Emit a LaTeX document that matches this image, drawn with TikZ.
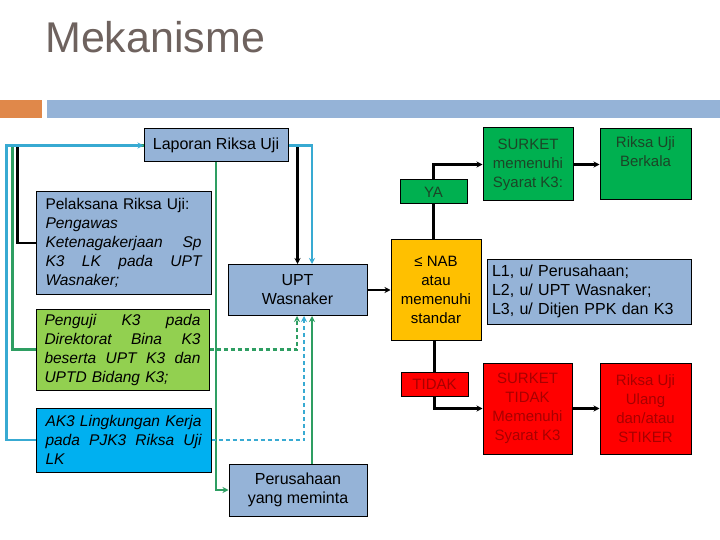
\documentclass[tikz,border=0pt]{standalone}
\usepackage{fontspec}
\setmainfont{Liberation Sans}
\usepackage{xcolor}
\usepackage{tikz}
\usetikzlibrary{arrows.meta}

\definecolor{judulAbu}{HTML}{6E625E}
\definecolor{barOranye}{HTML}{E0884A}
\definecolor{barBiru}{HTML}{95B3D7}
\definecolor{isiBiru}{HTML}{95B3D7}
\definecolor{isiHijauMuda}{HTML}{92D050}
\definecolor{isiCyan}{HTML}{00B0F0}
\definecolor{isiKuning}{HTML}{FFC000}
\definecolor{isiHijau}{HTML}{00B050}
\definecolor{isiMerah}{HTML}{FF0000}
\definecolor{teksHijau}{HTML}{1C4527}
\definecolor{teksMerah}{HTML}{A80000}
\definecolor{garisHijau}{HTML}{2E9E62}
\definecolor{garisBiru}{HTML}{38AAD2}

\begin{document}
\begin{tikzpicture}[
        x=1pt, y=-1pt,
        kotak/.style={rectangle, draw=black, line width=1pt, inner sep=0pt, align=center, font=\fontsize{16}{19}\selectfont},
        kotakkiri/.style={kotak, text width=156pt, align=left, font=\fontsize{15.5}{19}\selectfont\itshape},
        kotakkanan/.style={kotak, font=\fontsize{15}{19}\selectfont},
        garis/.style={line width=2.5pt},
        panah/.style={->, >={Stealth[length=6pt,width=6pt]}, line width=2.5pt},
        putus/.style={dash pattern=on 4pt off 3pt}
    ]
        \useasboundingbox (0,0) rectangle (720,540);
        \fill[white] (0,0) rectangle (720,540);

        % ========== JUDUL ==========
        \node[font=\fontsize{43}{43}\selectfont, text=judulAbu, anchor=base west, inner sep=0pt] (judul) at (45,53) {Mekanisme};
        \fill[barOranye] (0,100) rectangle (42,118);
        \fill[barBiru] (47,100) rectangle (720,118);

        % ========== SISI KIRI ==========
        \node[kotak, fill=isiBiru, minimum width=144pt, minimum height=33pt] (lapor) at (216,145.5) {Laporan Riksa Uji};
        \node[kotakkiri, fill=isiBiru, minimum width=175pt, minimum height=102pt] (pelaksana) at (123.5,243) {{\upshape Pelaksana Riksa Uji:}\\Pengawas\\Ketenagakerjaan\hfill Sp\\K3\hfill LK\hfill pada\hfill UPT\\Wasnaker;};
        \node[kotakkiri, fill=isiHijauMuda, minimum width=173pt, minimum height=81pt] (penguji) at (122.5,349.5) {Penguji\hfill K3\hfill pada\\Direktorat\hfill Bina\hfill K3\\beserta\hfill UPT\hfill K3\hfill dan\\UPTD Bidang K3;};
        \node[kotakkiri, fill=isiCyan, minimum width=175pt, minimum height=64pt] (ak3) at (123.5,440) {AK3 Lingkungan Kerja\\pada\hfill PJK3\hfill Riksa\hfill Uji\\LK};

        % ========== TENGAH ==========
        \node[kotak, fill=isiBiru, minimum width=139pt, minimum height=51pt] (upt) at (297.5,290) {UPT\\Wasnaker};
        \node[kotak, fill=isiBiru, minimum width=138pt, minimum height=52pt] (perusahaan) at (298,490) {Perusahaan\\yang meminta};

        % ========== SISI KANAN ==========
        \node[kotakkanan, fill=isiKuning, minimum width=90pt, minimum height=101pt] (nab) at (436,290) {≤ NAB\\atau\\memenuhi\\standar};
        \node[kotakkanan, fill=isiHijau, text=teksHijau, minimum width=67pt, minimum height=24pt] (ya) at (433.5,192) {YA};
        \node[kotakkanan, fill=isiHijau, text=teksHijau, minimum width=90pt, minimum height=73pt] (surketya) at (528,164.5) {SURKET\\memenuhi\\Syarat K3:};
        \node[kotakkanan, fill=isiHijau, minimum width=91pt, minimum height=71pt] (berkala) at (645.5,164.5) {};
        \node[font=\fontsize{15}{19}\selectfont, text=teksHijau, align=center, anchor=north, inner sep=0pt] (berkalaTeks) at ([yshift=-8pt]berkala.north) {Riksa Uji\\Berkala};
        \node[kotak, fill=isiBiru, text width=194pt, align=left, minimum width=204pt, minimum height=65pt] (keterangan) at (589,291.5) {L1, u/ Perusahaan;\\L2, u/ UPT Wasnaker;\\L3, u/ Ditjen PPK dan K3};
        \node[kotakkanan, fill=isiMerah, text=teksMerah, minimum width=67pt, minimum height=24pt] (tidak) at (434.5,384) {TIDAK};
        \node[kotakkanan, fill=isiMerah, text=teksMerah, minimum width=89pt, minimum height=91pt] (surkettidak) at (527.5,408.5) {SURKET\\TIDAK\\Memenuhi\\Syarat K3};
        \node[kotakkanan, fill=isiMerah, text=teksMerah, minimum width=91pt, minimum height=91pt] (ulang) at (645.5,408.5) {Riksa Uji\\Ulang\\dan/atau\\STIKER};

        % ========== GARIS KIRI KE LAPORAN ==========
        \draw[garis] (pelaksana.west) -- ++(-18,0) |- (lapor.west);
        \draw[garis, garisHijau] (penguji.west) -- ++(-23,0) |- (lapor.west);
        \draw[panah, garisBiru] (ak3.west) -- ++(-29,0) |- (lapor.west);

        % ========== LAPORAN KE UPT / PERUSAHAAN ==========
        \draw[panah] (lapor.east) -| (upt.north);
        \draw[panah, garisBiru] (lapor.east) -| ([xshift=14.5pt]upt.north);
        \draw[panah, garisHijau] (lapor.south) |- (perusahaan.west);
        \draw[panah, garisHijau] ([xshift=14pt]perusahaan.north) -- ([xshift=14pt]perusahaan.north |- upt.south);
        \draw[panah, garisHijau, putus] (penguji.east) -| ([xshift=-0.5pt]upt.south);
        \draw[panah, garisBiru, putus] (ak3.east) -| ([xshift=6.5pt]upt.south);

        % ========== UPT KE HASIL ==========
        \draw[panah] (upt.east) -- (nab.west);
        \draw[garis] (ya.south) -- (ya.south |- nab.north);
        \draw[panah] (ya.north) |- (surketya.west);
        \draw[panah] (surketya.east) -- (berkala.west);
        \draw[garis] (tidak.north) -- (tidak.north |- nab.south);
        \draw[panah] (tidak.south) |- (surkettidak.west);
        \draw[panah] (surkettidak.east) -- (ulang.west);

    \end{tikzpicture}
\end{document}
